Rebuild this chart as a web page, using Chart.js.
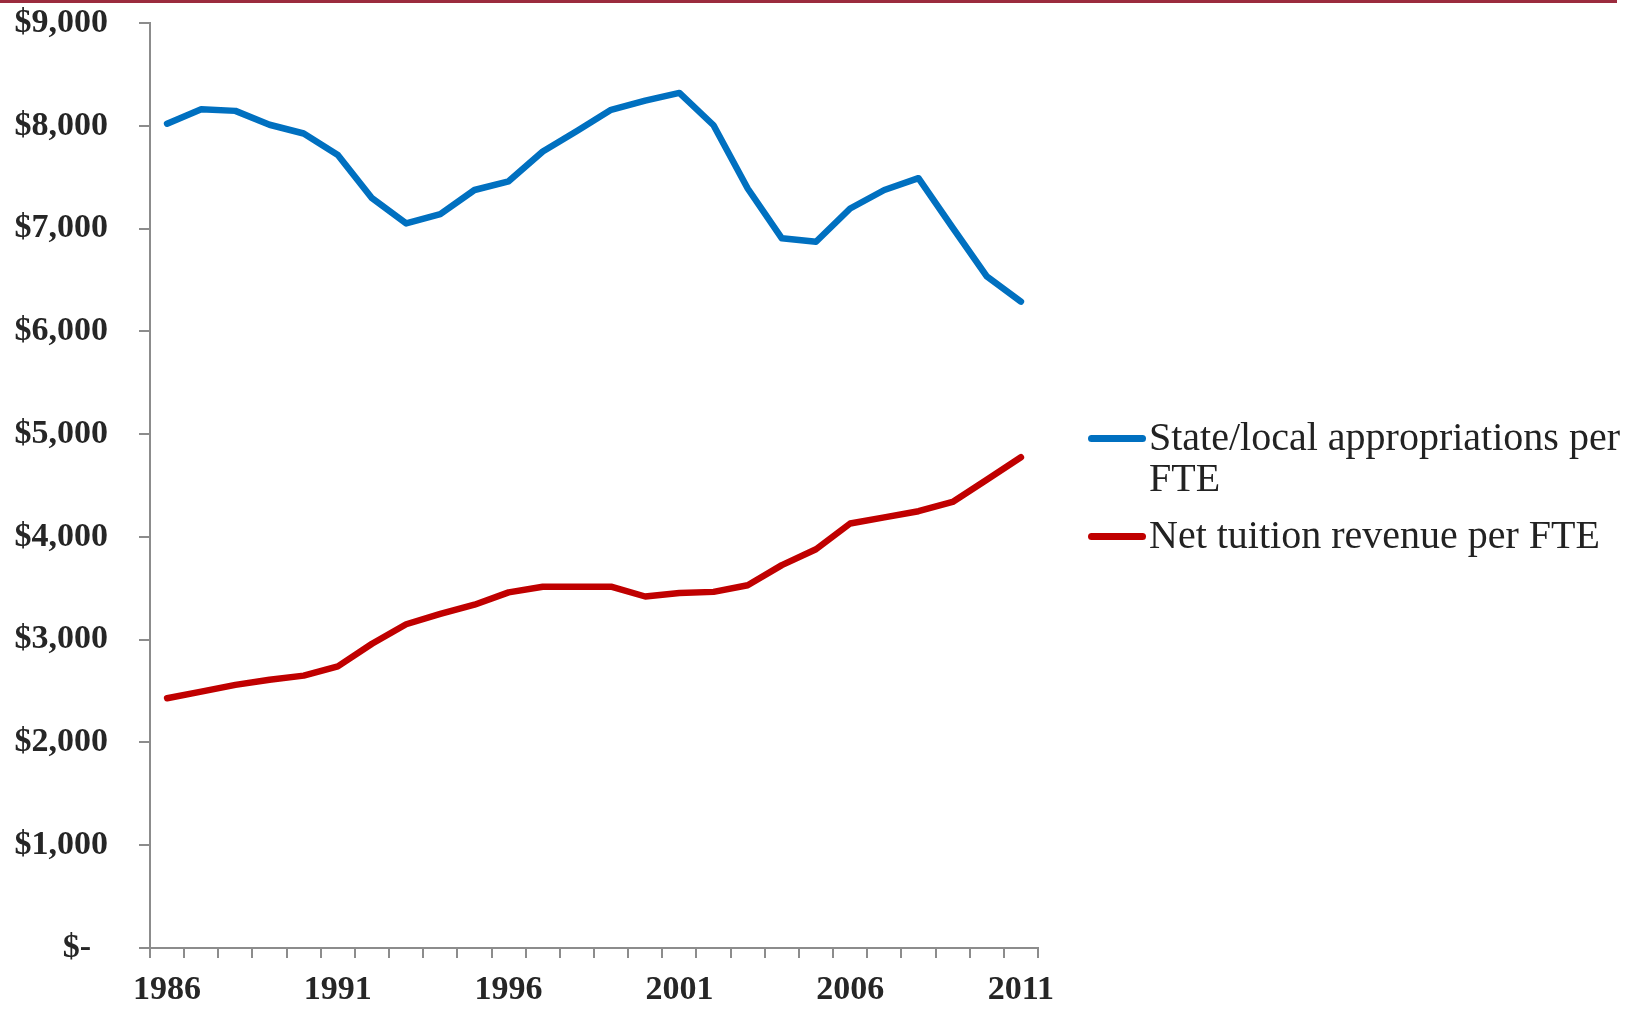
<!DOCTYPE html>
<html>
<head>
<meta charset="utf-8">
<script src="https://cdn.jsdelivr.net/npm/chart.js@4"></script>
<style>
  html, body { margin: 0; padding: 0; background: #ffffff; overflow: hidden; }
  #wrap { position: relative; width: 1641px; height: 1009px; }
  #topRule { position: absolute; left: 0; top: 0; width: 1617px; height: 3px; background: #9b2b3e; }
  #chart { position: absolute; left: 0; top: 0; }
  #legend { position: absolute; left: 1088px; top: 416px; width: 553px;
            font-family: "Liberation Serif", "DejaVu Serif", serif; font-size: 40px; line-height: 41px; color: #222222; }
  .item { display: flex; align-items: flex-start; margin-bottom: 16px; }
  .swatch { flex: 0 0 58px; height: 7px; border-radius: 3.5px; margin-top: 18.5px; margin-right: 3px; }
  .text { flex: 1 1 auto; width: 490px; }
</style>
</head>
<body>
<div id="wrap">
  <canvas id="chart" width="1641" height="1009"></canvas>
  <div id="topRule"></div>
  <div id="legend"></div>
</div>
<script>
// ---- data ----
const years = ['1986','1987','1988','1989','1990','1991','1992','1993','1994','1995','1996','1997','1998',
               '1999','2000','2001','2002','2003','2004','2005','2006','2007','2008','2009','2010','2011'];
const shownYearLabels = ['1986','1991','1996','2001','2006','2011'];
const seriesNames = ['State/local appropriations per FTE', 'Net tuition revenue per FTE'];
const stateLocalAppropriations = [8020, 8160, 8145, 8010, 7925, 7715, 7295, 7050, 7140, 7375, 7460, 7750, 7950,
                                  8155, 8245, 8320, 8005, 7390, 6905, 6872, 7195, 7375, 7490, 7010, 6535, 6290];
const netTuitionRevenue = [2430, 2495, 2560, 2610, 2650, 2740, 2960, 3150, 3250, 3340, 3460, 3515, 3515,
                           3515, 3420, 3455, 3465, 3530, 3725, 3880, 4130, 4190, 4250, 4340, 4555, 4775];
const yTickLabels = ['$-', '$1,000', '$2,000', '$3,000', '$4,000', '$5,000', '$6,000', '$7,000', '$8,000', '$9,000'];
const seriesColors = ['#0070c0', '#c00000'];

// ---- chart ----
const axisGray = '#8c8c8c';
const textColor = '#262626';
const tickFont = { family: '"Liberation Serif", "DejaVu Serif", serif', size: 34, weight: 'bold' };

const chart = new Chart(document.getElementById('chart'), {
  type: 'line',
  data: {
    labels: years,
    datasets: [
      { label: seriesNames[0], data: stateLocalAppropriations, borderColor: seriesColors[0], backgroundColor: seriesColors[0],
        borderWidth: 6.5, pointRadius: 0, tension: 0, borderCapStyle: 'round', borderJoinStyle: 'round', fill: false },
      { label: seriesNames[1], data: netTuitionRevenue, borderColor: seriesColors[1], backgroundColor: seriesColors[1],
        borderWidth: 6.5, pointRadius: 0, tension: 0, borderCapStyle: 'round', borderJoinStyle: 'round', fill: false }
    ]
  },
  options: {
    responsive: false,
    animation: false,
    devicePixelRatio: 1,
    layout: { padding: { left: 0, top: 23, right: 603, bottom: 0 } },
    plugins: { legend: { display: false }, tooltip: { enabled: false } },
    scales: {
      x: {
        type: 'category',
        offset: true,
        grid: { offset: true, drawOnChartArea: false, drawTicks: true, tickLength: 10, color: axisGray, lineWidth: 2 },
        border: { display: true, color: axisGray, width: 2 },
        ticks: {
          autoSkip: false, maxRotation: 0, minRotation: 0, padding: 12,
          color: textColor, font: tickFont,
          callback: function (value, index) {
            const lbl = this.getLabelForValue(value);
            return shownYearLabels.includes(lbl) ? lbl : '';
          }
        },
        afterFit: function (scale) { scale.height = 61; scale.paddingLeft = 0; scale.paddingRight = 0; }
      },
      y: {
        min: 0, max: 9000,
        grid: { drawOnChartArea: false, drawTicks: true, tickLength: 11, color: axisGray, lineWidth: 2 },
        border: { display: true, color: axisGray, width: 2 },
        ticks: {
          stepSize: 1000, padding: 31, color: textColor, font: tickFont,
          callback: function (value) {
            const lbl = yTickLabels[Math.round(value / 1000)];
            return lbl === '$-' ? '$-\u2007' : lbl;
          }
        },
        afterFit: function (scale) { scale.width = 150; scale.paddingTop = 0; scale.paddingBottom = 0; }
      }
    }
  }
});

// ---- HTML legend built from the datasets ----
const legendEl = document.getElementById('legend');
chart.data.datasets.forEach(function (ds) {
  const item = document.createElement('div');
  item.className = 'item';
  const sw = document.createElement('div');
  sw.className = 'swatch';
  sw.style.background = ds.borderColor;
  const tx = document.createElement('div');
  tx.className = 'text';
  tx.textContent = ds.label;
  item.appendChild(sw);
  item.appendChild(tx);
  legendEl.appendChild(item);
});
</script>
</body>
</html>
